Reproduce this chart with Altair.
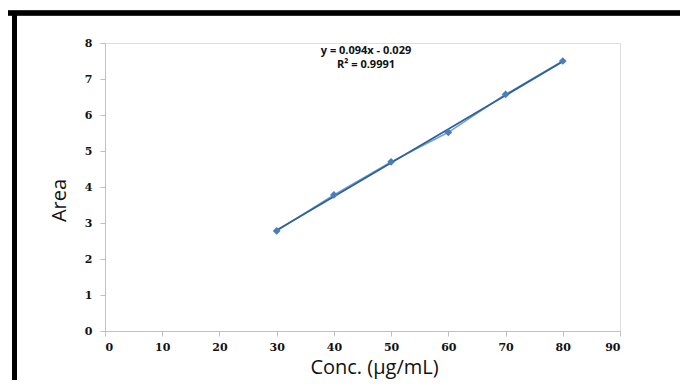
import altair as alt
import pandas as pd

conc = [30, 40, 50, 60, 70, 80]
area = [2.78, 3.78, 4.70, 5.52, 6.57, 7.50]
eq_lines = ["y = 0.094x - 0.029", "R\u00b2 = 0.9991"]

df = pd.DataFrame({"conc": conc, "area": area})

x_enc = alt.X("conc:Q", scale=alt.Scale(domain=[0, 90], nice=False),
              axis=alt.Axis(title="Conc. (\u03bcg/mL)", values=list(range(0, 100, 10)),
                            grid=False, domainColor="#c0c0c0", tickColor="#c0c0c0",
                            tickSize=5, labelPadding=5, labelOverlap=False,
                            labelFont="DejaVu Serif", labelFontWeight="bold", labelFontSize=11,
                            labelColor="#111111",
                            titleFont="Open Sans", titleFontSize=20, titleFontWeight="normal",
                            titleColor="#111111", titleX=269, titleY=42,
                            titleBaseline="alphabetic", titleAlign="center"))
y_enc = alt.Y("area:Q", scale=alt.Scale(domain=[0, 8], nice=False),
              axis=alt.Axis(title="Area", values=list(range(0, 9)),
                            grid=False, domainColor="#c0c0c0", tickColor="#c0c0c0",
                            tickSize=5, labelPadding=8, labelOverlap=False,
                            labelFont="DejaVu Serif", labelFontWeight="bold", labelFontSize=11,
                            labelColor="#111111",
                            titleFont="Open Sans", titleFontSize=20, titleFontWeight="normal",
                            titleColor="#111111", titleX=-46, titleY=157,
                            titleAngle=270, titleBaseline="middle", titleAlign="center"))

base = alt.Chart(df)

data_line = base.mark_line(color="#6f9fd8", strokeWidth=1.5).encode(x=x_enc, y=y_enc)
trend = base.transform_regression("conc", "area").mark_line(
    color="#2f5f98", strokeWidth=1.8).encode(x=x_enc, y=y_enc)
points = base.mark_point(shape="diamond", filled=True, size=60, color="#4a7ebb",
                         opacity=1).encode(x=x_enc, y=y_enc)

eq_df1 = pd.DataFrame({"t": [eq_lines[0]]})
eq_df2 = pd.DataFrame({"t": [eq_lines[1]]})
eq1 = alt.Chart(eq_df1).mark_text(font="Open Sans", fontWeight="bold", fontSize=11,
                                  color="#111111", align="center", baseline="middle").encode(
    x=alt.value(261), y=alt.value(8), text="t:N")
eq2 = alt.Chart(eq_df2).mark_text(font="Open Sans", fontWeight="bold", fontSize=11,
                                  color="#111111", align="center", baseline="middle").encode(
    x=alt.value(261), y=alt.value(22), text="t:N")

border_top = alt.Chart(df).mark_rule(color="black", strokeWidth=4.5).encode(
    x=alt.value(-105), x2=alt.value(583), y=alt.value(-30))
border_left = alt.Chart(df).mark_rule(color="black", strokeWidth=5).encode(
    x=alt.value(-90.5), y=alt.value(-32), y2=alt.value(345))

chart = alt.layer(data_line, trend, points, eq1, eq2, border_top, border_left).properties(
    width=515, height=288,
    autosize=alt.AutoSizeParams(type="none"),
    padding={"left": 97, "top": 35, "right": 60, "bottom": 49},
).configure_view(stroke=None).configure(background="white")

chart.save("out.html", embed_options={"renderer": "svg", "actions": False})
